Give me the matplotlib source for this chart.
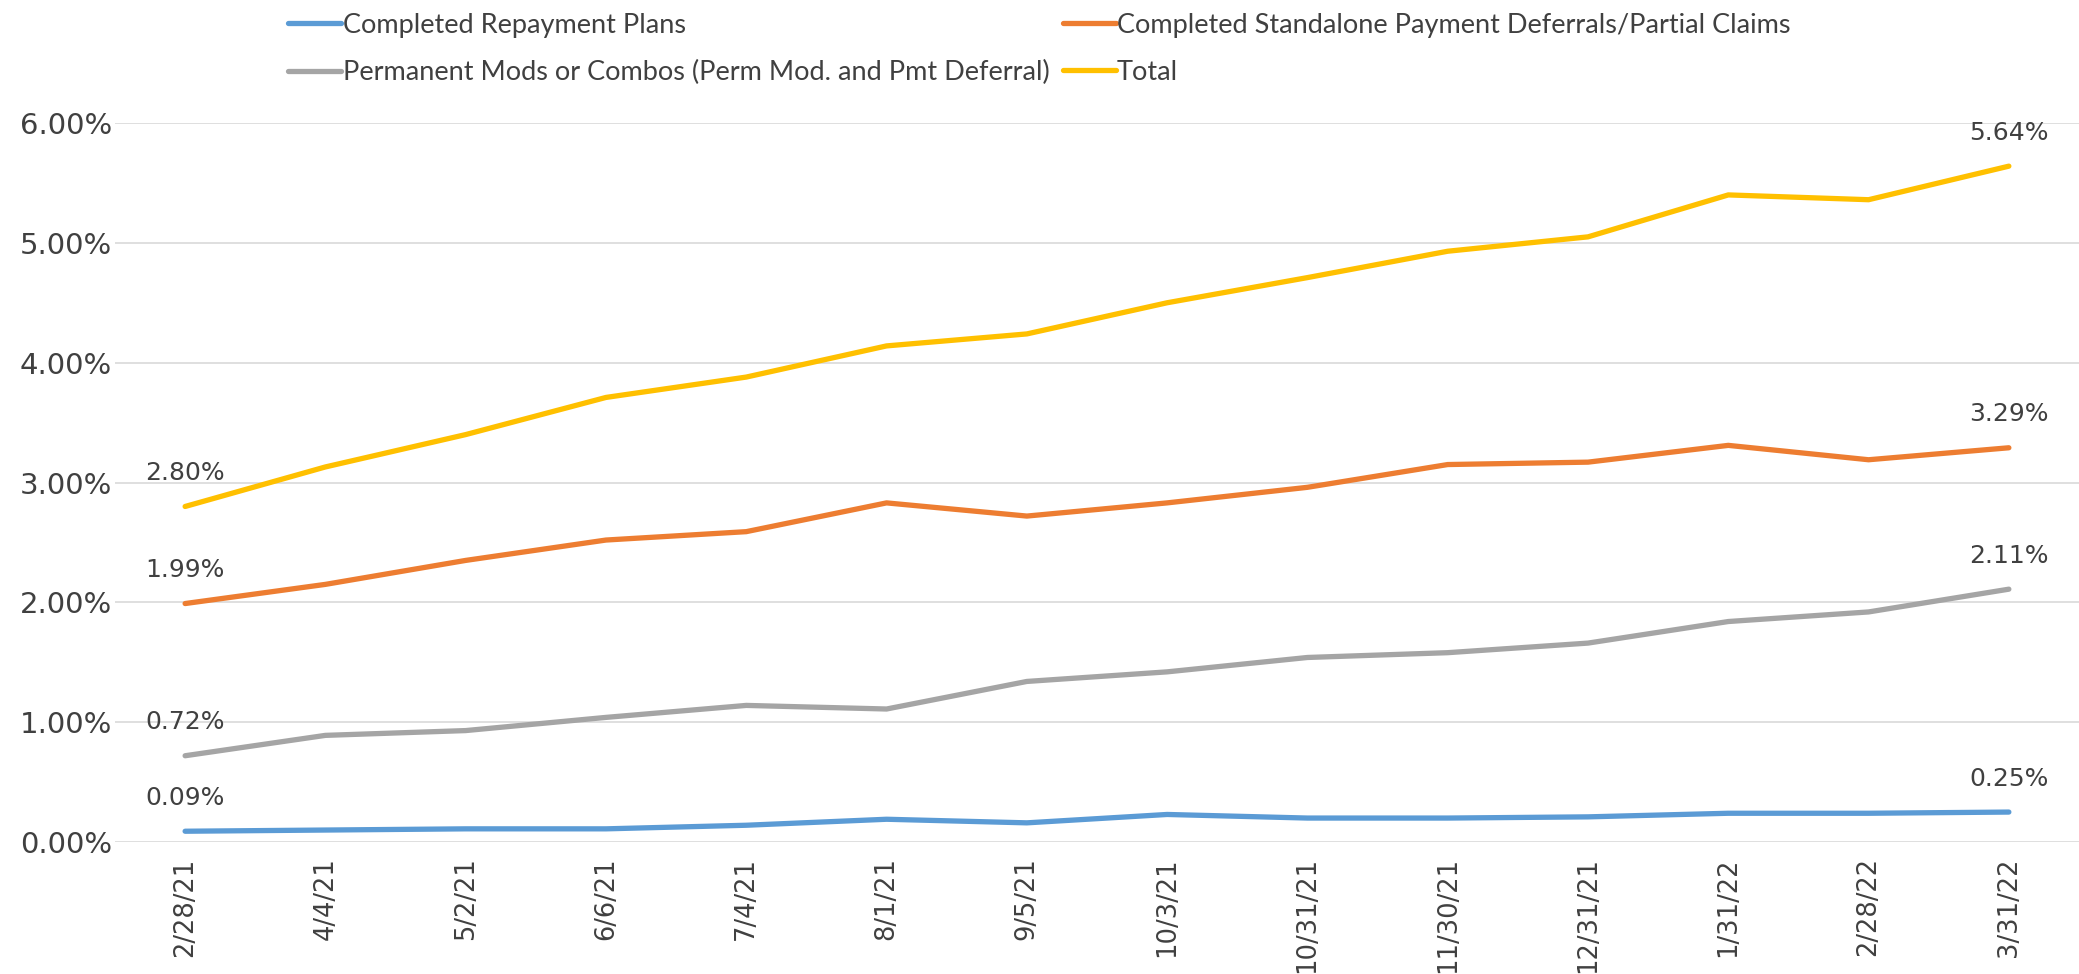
import matplotlib

matplotlib.use("Agg")
import matplotlib.pyplot as plt  # noqa: E402
from matplotlib.ticker import FuncFormatter  # noqa: E402

dates = ["2/28/21", "4/4/21", "5/2/21", "6/6/21", "7/4/21", "8/1/21", "9/5/21",
         "10/3/21", "10/31/21", "11/30/21", "12/31/21", "1/31/22", "2/28/22", "3/31/22"]

repayment = [0.09, 0.10, 0.11, 0.11, 0.14, 0.19, 0.16, 0.23, 0.20, 0.20, 0.21, 0.24, 0.24, 0.25]
deferrals = [1.99, 2.15, 2.35, 2.52, 2.59, 2.83, 2.72, 2.83, 2.96, 3.15, 3.17, 3.31, 3.19, 3.29]
perm_mods = [0.72, 0.89, 0.93, 1.04, 1.14, 1.11, 1.34, 1.42, 1.54, 1.58, 1.66, 1.84, 1.92, 2.11]
total = [2.80, 3.13, 3.40, 3.71, 3.88, 4.14, 4.24, 4.50, 4.71, 4.93, 5.05, 5.40, 5.36, 5.64]

series = [
    ("Completed Repayment Plans", repayment, "#5B9BD5"),
    ("Completed Standalone Payment Deferrals/Partial Claims", deferrals, "#ED7D31"),
    ("Permanent Mods or Combos (Perm Mod. and Pmt Deferral)", perm_mods, "#A5A5A5"),
    ("Total", total, "#FFC000"),
]
TEXT = "#404040"

fig = plt.figure(figsize=(20.79, 9.74), dpi=100)
ax = fig.add_axes([0.0553, 0.1355, 0.9447, 0.7382])

x = list(range(len(dates)))
handles = []
for name, vals, color in series:
    (h,) = ax.plot(x, vals, color=color, lw=3.8, solid_capstyle="round", label=name, zorder=3)
    handles.append(h)
    # value labels on the first and last point only
    for i in (0, len(vals) - 1):
        ax.annotate(f"{vals[i]:.2f}%", (i, vals[i]), xytext=(0, 24), textcoords="offset points",
                    ha="center", va="center", fontsize=18, color=TEXT)

ax.set_xlim(-0.5, len(dates) - 0.5)
ax.set_ylim(0, 6)
ax.set_yticks([0, 1, 2, 3, 4, 5, 6])
ax.yaxis.set_major_formatter(FuncFormatter(lambda v, _: f"{v:.2f}%"))
ax.set_xticks(x)
ax.set_xticklabels(dates, rotation=90)
ax.tick_params(axis="both", length=0, labelcolor=TEXT)
ax.tick_params(axis="y", pad=2, labelsize=21)
ax.tick_params(axis="x", pad=11, labelsize=18.5)
ax.grid(True, axis="y", color="#D9D9D9", lw=1.2)
for s in ax.spines.values():
    s.set_visible(False)

# legend reads row by row: repayment, deferrals / perm mods, total
order = [0, 2, 1, 3]
leg = fig.legend(handles=[handles[i] for i in order], ncol=2,
                 loc="upper left", bbox_to_anchor=(0.127, 1.012), frameon=False,
                 prop={"family": "Lato", "size": 19.5},
                 handlelength=1.95, handletextpad=0.05, columnspacing=0.5, labelspacing=0.82)
for t in leg.get_texts():
    t.set_color(TEXT)

fig.savefig("out.png", dpi=100)
